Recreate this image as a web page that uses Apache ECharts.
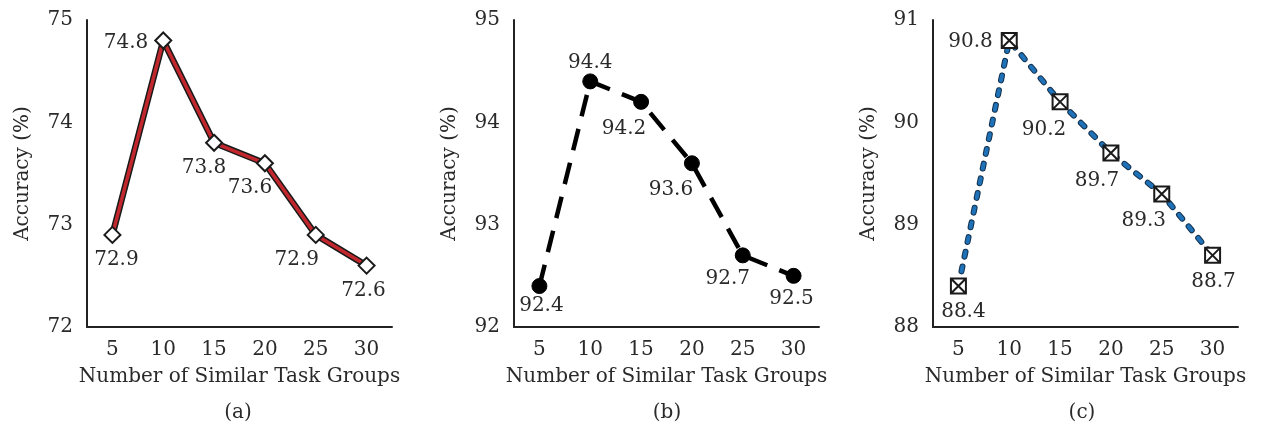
<!DOCTYPE html>
<html>
<head>
<meta charset="utf-8">
<script src="https://cdn.jsdelivr.net/npm/echarts@6/dist/echarts.min.js"></script>
<style>html,body{margin:0;padding:0;background:#fff}#c{width:1273px;height:425px}</style>
</head>
<body>
<div id="c"></div>
<script>
// ---- data ----
const categories = ['5', '10', '15', '20', '25', '30'];
const accA = [72.9, 74.8, 73.8, 73.6, 72.9, 72.6];
const accB = [92.4, 94.4, 94.2, 93.6, 92.7, 92.5];
const accC = [88.4, 90.8, 90.2, 89.7, 89.3, 88.7];
const yRangeA = [72, 75];
const yRangeB = [92, 95];
const yRangeC = [88, 91];
const captions = ['(a)', '(b)', '(c)'];
const xName = 'Number of Similar Task Groups';
const yName = 'Accuracy (%)';

// ---- layout / style ----
const FONT = 'DejaVu Serif';
const TXT = '#2a2a2a';
const FS = 20;
const gridLefts = [87, 514, 933];
const captionX = [238, 667, 1082];
const GRID_TOP = 20, GRID_W = 305, GRID_H = 307;

// label placement per point: [position, dx, dy]
const placeA = [['bottom',4,0],['left',0,2],['bottom',-10,0],['bottom',-15,0],['bottom',-19,0],['bottom',-3,0]];
const placeB = [['bottom',2,-4],['top',0,5],['bottom',-17,3],['bottom',-21,3],['bottom',-15,-1],['bottom',-2,-1]];
const placeC = [['bottom',5,1],['left',-2,1],['bottom',-16,3],['bottom',-14,3],['bottom',-18,2],['bottom',1,2]];

const boxX = 'path://M0,0 L10,0 L10,10 L0,10 Z M0,0 L10,10 M10,0 L0,10';

function labeled(vals, place) {
  return vals.map((v, i) => ({
    value: v,
    label: { position: place[i][0], offset: [place[i][1], place[i][2]] }
  }));
}

const panels = [
  { vals: accA, range: yRangeA },
  { vals: accB, range: yRangeB },
  { vals: accC, range: yRangeC }
];

const grid = [], xAxis = [], yAxis = [], series = [], graphic = [];
panels.forEach((p, k) => {
  grid.push({ left: gridLefts[k], top: GRID_TOP, width: GRID_W, height: GRID_H, containLabel: false });
  xAxis.push({
    type: 'category', gridIndex: k, data: categories, boundaryGap: true,
    name: xName, nameLocation: 'middle', nameGap: 40,
    nameTextStyle: { fontFamily: FONT, fontSize: FS, color: TXT },
    axisLine: { lineStyle: { color: '#222', width: 2 } },
    axisTick: { show: false },
    axisLabel: { fontFamily: FONT, fontSize: FS, color: TXT, margin: 13 },
    splitLine: { show: false }
  });
  yAxis.push({
    type: 'value', gridIndex: k, min: p.range[0], max: p.range[1], interval: 1,
    name: yName, nameLocation: 'middle', nameGap: 54,
    nameTextStyle: { fontFamily: FONT, fontSize: FS, color: TXT },
    axisLine: { show: true, lineStyle: { color: '#222', width: 2 } },
    axisTick: { show: false },
    axisLabel: { fontFamily: FONT, fontSize: FS, color: TXT, margin: 14 },
    splitLine: { show: false }
  });
  graphic.push({
    type: 'text', x: captionX[k], y: 413,
    style: { text: captions[k], font: FS + 'px "' + FONT + '"', fill: TXT, textAlign: 'center', textVerticalAlign: 'middle' }
  });
});

const lblStyle = { show: true, fontFamily: FONT, fontSize: FS, color: TXT, distance: 6 };

// (a) red line with black outline, white diamonds
series.push({
  type: 'line', xAxisIndex: 0, yAxisIndex: 0, data: accA, showSymbol: false, silent: true,
  lineStyle: { color: '#1a1a1a', width: 6.5 }, z: 1
});
series.push({
  type: 'line', xAxisIndex: 0, yAxisIndex: 0, data: labeled(accA, placeA),
  symbol: 'diamond', symbolSize: 16,
  itemStyle: { color: '#fff', borderColor: '#1a1a1a', borderWidth: 2 },
  lineStyle: { color: '#C1272D', width: 3.5 },
  label: lblStyle, z: 2
});

// (b) black long dashes, black circles
series.push({
  type: 'line', xAxisIndex: 1, yAxisIndex: 1, data: labeled(accB, placeB),
  symbol: 'circle', symbolSize: 15,
  itemStyle: { color: '#000', borderColor: '#000', borderWidth: 1 },
  lineStyle: { color: '#000', width: 4.5, type: [22, 13] },
  label: lblStyle, z: 2
});

// (c) blue short dashes with dark outline, boxed-x squares
series.push({
  type: 'line', xAxisIndex: 2, yAxisIndex: 2, data: accC, showSymbol: false, silent: true,
  lineStyle: { color: '#12304d', width: 6, type: [5, 10], cap: 'round' }, z: 1
});
series.push({
  type: 'line', xAxisIndex: 2, yAxisIndex: 2, data: labeled(accC, placeC),
  symbol: boxX, symbolSize: 15, symbolKeepAspect: true,
  itemStyle: { color: '#fff', borderColor: '#1a1a1a', borderWidth: 2 },
  lineStyle: { color: '#1F72B8', width: 4, type: [5, 10], cap: 'round' },
  label: lblStyle, z: 2
});

const chart = echarts.init(document.getElementById('c'), null, { renderer: 'canvas' });
chart.setOption({
  animation: false,
  backgroundColor: '#fff',
  grid, xAxis, yAxis, series, graphic
});
</script>
</body>
</html>
